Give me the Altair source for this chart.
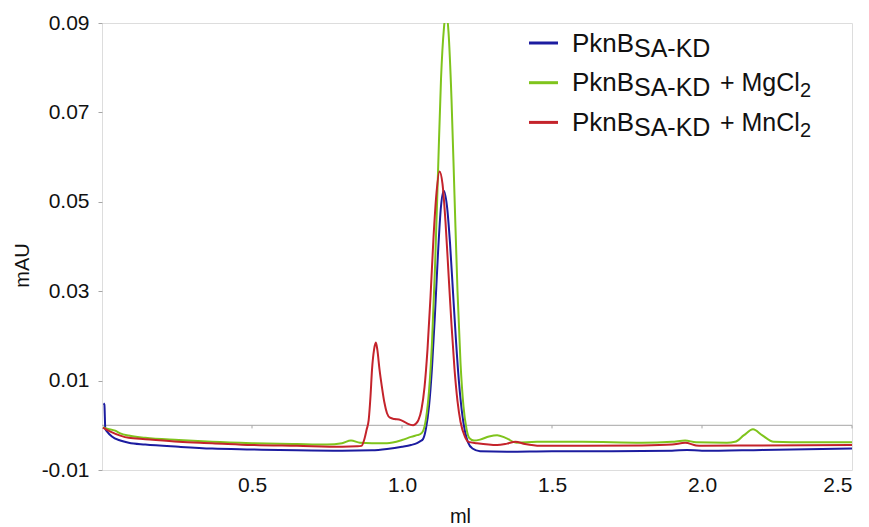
import altair as alt
import pandas as pd

# ---------------- data ----------------
blue_x = [0.005, 0.008, 0.011, 0.017, 0.033, 0.061, 0.089, 0.144, 0.256, 0.367, 0.5, 0.65, 0.8, 0.9, 0.95,
          1.0, 1.03, 1.05, 1.06, 1.07, 1.08, 1.09, 1.10, 1.11, 1.12, 1.13, 1.139, 1.15, 1.16, 1.17, 1.18,
          1.19, 1.20, 1.21, 1.22, 1.235, 1.26, 1.35, 1.5, 1.7, 1.9, 1.95, 2.0, 2.2, 2.4, 2.5]
blue_y = [0.0049, 0.0046, -0.0008, -0.0014, -0.0025, -0.0034, -0.0039, -0.0043, -0.0048, -0.0052, -0.0054,
          -0.0056, -0.0057, -0.0056, -0.0053, -0.0048, -0.0044, -0.0040, -0.0036, -0.0031, -0.0007, 0.0042,
          0.0129, 0.025, 0.0385, 0.049, 0.0525, 0.049, 0.0408, 0.0298, 0.0189, 0.0096, 0.0029, -0.0014,
          -0.0038, -0.0052, -0.0058, -0.0059, -0.0058, -0.0058, -0.0057, -0.0055, -0.0057, -0.0055,
          -0.0053, -0.0052]

green_x = [0.003, 0.02, 0.044, 0.061, 0.089, 0.144, 0.256, 0.367, 0.5, 0.65, 0.75, 0.80, 0.83, 0.86, 0.9,
           0.95, 1.0, 1.03, 1.05, 1.06, 1.07, 1.08, 1.09, 1.10, 1.11, 1.12, 1.13, 1.14, 1.147, 1.155, 1.165,
           1.175, 1.185, 1.195, 1.205, 1.215, 1.225, 1.24, 1.26, 1.29, 1.317, 1.345, 1.383, 1.45, 1.5, 1.6,
           1.8, 1.9, 1.944, 1.98, 2.083, 2.11, 2.14, 2.17, 2.2, 2.239, 2.3, 2.5]
green_y = [-0.0005, -0.0008, -0.0012, -0.0018, -0.0023, -0.0028, -0.0033, -0.0037, -0.0040, -0.0042,
           -0.0043, -0.0040, -0.0034, -0.0039, -0.0040, -0.0040, -0.0033, -0.0026, -0.0022, -0.0020,
           -0.0013, 0.0015, 0.0076, 0.0185, 0.0353, 0.0565, 0.0774, 0.0890, 0.0925, 0.0880, 0.073, 0.0514,
           0.030, 0.014, 0.0042, -0.0008, -0.0029, -0.0034, -0.0032, -0.0025, -0.0022, -0.0028, -0.0039,
           -0.0037, -0.0037, -0.0037, -0.0039, -0.0037, -0.0034, -0.0038, -0.0039, -0.0037, -0.0022,
           -0.0009, -0.0022, -0.0037, -0.0038, -0.0038]

red_x = [0.003, 0.028, 0.061, 0.089, 0.144, 0.256, 0.367, 0.5, 0.65, 0.8, 0.85, 0.865, 0.875, 0.882, 0.889,
         0.895, 0.9, 0.907, 0.913, 0.918, 0.925, 0.933, 0.941, 0.95, 0.96, 0.975, 0.99, 1.005, 1.02, 1.037,
         1.047, 1.055, 1.065, 1.075, 1.085, 1.095, 1.105, 1.115, 1.125, 1.135, 1.145, 1.155, 1.165, 1.175,
         1.185, 1.195, 1.21, 1.221, 1.25, 1.317, 1.35, 1.378, 1.41, 1.461, 1.6, 1.8, 1.9, 1.944, 1.98, 2.0,
         2.2, 2.5]
red_y = [-0.0005, -0.0014, -0.0023, -0.0028, -0.0031, -0.0037, -0.0040, -0.0044, -0.0046, -0.0048, -0.0047,
         -0.0046, -0.0030, -0.0010, 0.0012, 0.0065, 0.0124, 0.0170, 0.0185, 0.0168, 0.0125, 0.0086, 0.0052,
         0.0027, 0.0017, 0.0014, 0.0013, 0.0009, 0.0003, 0.0000, 0.0004, 0.0012, 0.0036, 0.0085, 0.0170,
         0.0287, 0.042, 0.052, 0.0568, 0.054, 0.0455, 0.034, 0.0225, 0.0126, 0.0054, 0.0008, -0.0026,
         -0.0037, -0.0040, -0.0044, -0.0041, -0.0037, -0.0042, -0.0046, -0.0046, -0.0045, -0.0043, -0.0039,
         -0.0045, -0.0046, -0.0045, -0.0044]

series_names = ["PknB SA-KD", "PknB SA-KD + MgCl2", "PknB SA-KD + MnCl2"]
series_colors = ["#1c1ca0", "#7fc41c", "#c4232b"]
legend_main = ["PknB", "PknB", "PknB"]
legend_sub = ["SA-KD", "SA-KD", "SA-KD"]
legend_tail = ["", "+ MgCl", "+ MnCl"]
legend_tail_sub = ["", "2", "2"]

x_ticks = [0.5, 1.0, 1.5, 2.0, 2.5]
y_ticks = [-0.01, 0.01, 0.03, 0.05, 0.07, 0.09]

# ---------------- build table ----------------
frames = []
for name, xs, ys in zip(series_names, [blue_x, green_x, red_x], [blue_y, green_y, red_y]):
    frames.append(pd.DataFrame({"ml": xs, "mAU": ys, "series": name}))
df = pd.concat(frames, ignore_index=True)

FONT = "Liberation Sans"
GRAY = "#a6a6a6"
INK = "#111111"

xscale = alt.Scale(domain=[0, 2.5], nice=False, zero=False)
yscale = alt.Scale(domain=[-0.01, 0.09], nice=False, zero=False)
cscale = alt.Scale(domain=series_names, range=series_colors)

x_axis = alt.Axis(values=x_ticks, format=".1f", labelFontSize=21, labelColor=INK, ticks=False,
                  domain=False, grid=False, labelPadding=4, labelFont=FONT,
                  title="ml", titleFontSize=20, titleFontWeight="normal", titleFont=FONT,
                  titleColor=INK, titleX=358, titleY=52, titleBaseline="alphabetic")
y_axis = alt.Axis(values=y_ticks, labelFontSize=21, labelColor=INK, tickColor=GRAY, tickSize=4,
                  tickWidth=1, labelPadding=9, domain=False, grid=False, labelFont=FONT,
                  labelExpr="datum.value < 0 ? '-' + format(-datum.value, '.2f') : format(datum.value, '.2f')",
                  title="mAU", titleFontSize=20, titleFontWeight="normal", titleFont=FONT,
                  titleColor=INK, titleX=-80, titleY=242, titleBaseline="middle")

zero_line = alt.Chart(pd.DataFrame({"y": [0.0]})).mark_rule(color=GRAY, strokeWidth=1).encode(
    y=alt.Y("y:Q", scale=yscale, axis=y_axis)
)

tick_df = pd.DataFrame({"x": x_ticks, "y": [0.0] * len(x_ticks), "y2": [-0.0007] * len(x_ticks)})
zero_ticks = alt.Chart(tick_df).mark_rule(color=GRAY, strokeWidth=1).encode(
    x=alt.X("x:Q", scale=xscale, axis=x_axis),
    y=alt.Y("y:Q", scale=yscale),
    y2="y2:Q",
)

lines = alt.Chart(df).mark_line(strokeWidth=2, clip=True, interpolate="monotone").encode(
    x=alt.X("ml:Q", scale=xscale, axis=x_axis),
    y=alt.Y("mAU:Q", scale=yscale, axis=y_axis),
    color=alt.Color("series:N", scale=cscale, legend=None),
    detail="series:N",
)

# ---------------- manual legend (with lowered subscripts) ----------------
leg = pd.DataFrame({
    "series": series_names,
    "main": legend_main,
    "sub": legend_sub,
    "tail": legend_tail,
    "tsub": legend_tail_sub,
})
leg["row"] = range(len(leg))
leg["py"] = 20 + 39.7 * leg["row"]
leg["pb"] = leg["py"] + 8.5
leg["pbs"] = leg["pb"] + 5
leg["pbt"] = leg["pb"] + 6

legend_base = alt.Chart(leg)
leg_sym = legend_base.mark_rule(strokeWidth=3).encode(
    x=alt.value(427), x2=alt.value(456),
    y=alt.Y("py:Q", scale=None),
    color=alt.Color("series:N", scale=cscale, legend=None),
)
txt = dict(font=FONT, color=INK, align="left", baseline="alphabetic")
leg_main = legend_base.mark_text(fontSize=26, **txt).encode(
    x=alt.value(470), y=alt.Y("pb:Q", scale=None), text="main:N")
leg_sub = legend_base.mark_text(fontSize=25, **txt).encode(
    x=alt.value(532), y=alt.Y("pbs:Q", scale=None), text="sub:N")
leg_tail = legend_base.mark_text(fontSize=25, **txt).encode(
    x=alt.value(618), y=alt.Y("pb:Q", scale=None), text="tail:N")
leg_tsub = legend_base.mark_text(fontSize=20, **txt).encode(
    x=alt.value(698), y=alt.Y("pbt:Q", scale=None), text="tsub:N")

chart = alt.layer(
    zero_line, zero_ticks, lines, leg_sym, leg_main, leg_sub, leg_tail, leg_tsub
).resolve_scale(y="shared").properties(
    width=750, height=447,
    padding={"left": 94, "top": 15, "right": 9, "bottom": 57},
    autosize=alt.AutoSizeParams(type="none"),
    background="white",
).configure_view(stroke=GRAY, strokeWidth=1.5).configure(font=FONT)

chart.save("out.html", embed_options={"renderer": "svg", "actions": False})
